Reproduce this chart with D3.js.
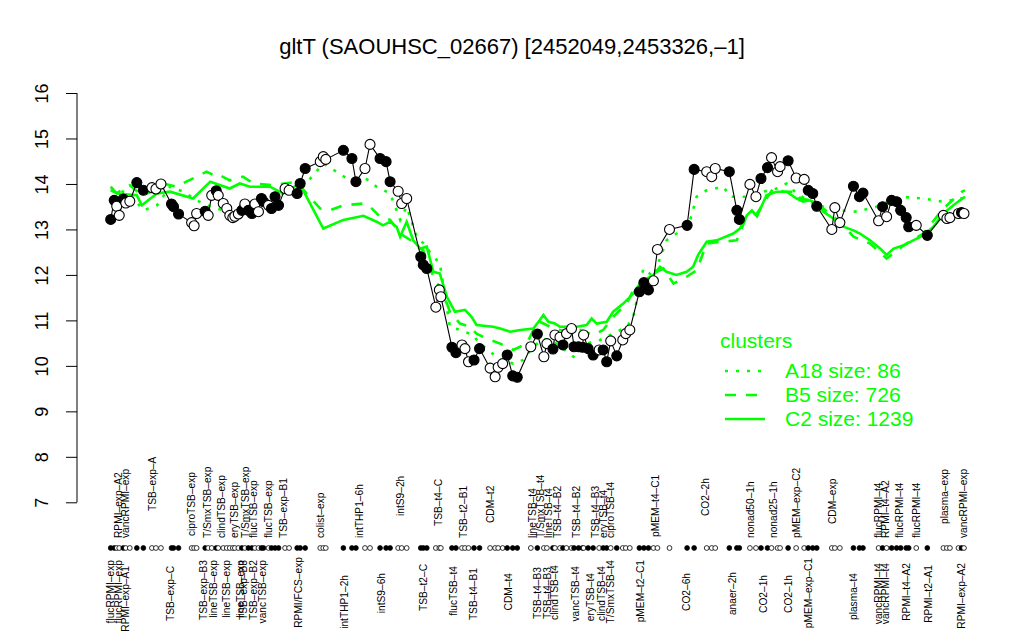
<!DOCTYPE html>
<html><head><meta charset="utf-8">
<script src="https://cdn.jsdelivr.net/npm/d3@7"></script>
<style>body{margin:0;background:#fff} svg{display:block} text{font-family:"Liberation Sans",Arial,Helvetica,sans-serif}</style>
</head><body><svg id="c" width="1024" height="640"></svg>
<script>
const title = "gltT (SAOUHSC_02667) [2452049,2453326,\u20131]";
const yTicks = [7,8,9,10,11,12,13,14,15,16];

// sample positions along the condition axis, expression values, filled(1)/open(0)
const samplePos = [0,0.7,1.2,1.7,2.5,3.0,3.8,5.2,6.5,8.2,9.0,10.0,12.1,12.5,13.5,16.1,16.6,17.1,18.8,19.4,20.1,21.0,21.4,22.4,23.1,23.7,24.3,24.7,25.4,26.1,26.7,27.4,28.1,28.7,29.4,30.0,30.4,31.4,32.0,32.7,33.4,34.7,35.5,37.1,37.7,38.7,41.7,42.3,42.8,46.3,48.0,48.8,50.6,51.6,53.6,54.8,55.6,57.2,57.9,58.9,61.7,62.2,62.9,64.7,65.4,65.7,67.9,68.7,69.9,70.5,71.2,72.3,73.4,75.5,76.5,77.1,78.0,78.9,80.0,80.9,83.6,84.9,86.2,86.8,88.0,88.4,89.4,90.0,90.7,91.7,92.2,93.1,93.9,94.1,95.0,96.0,97.2,98.0,98.7,99.5,100.7,101.9,102.5,103.3,105.2,106.1,107.0,108.0,108.8,111.2,114.7,116.1,118.6,119.6,120.3,123.1,124.6,125.1,127.2,128.4,129.4,130.7,131.5,132.7,133.2,134.8,136.4,138.0,138.8,139.7,140.5,143.5,144.1,145.1,147.8,149.0,149.7,152.8,153.6,154.4,155.4,156.4,157.2,158.3,158.8,160.3,162.5,165.7,166.4,167.0,168.7,169.3,169.8];
const sampleValue = [13.22,13.64,13.51,13.31,13.67,13.58,13.62,14.03,13.86,13.92,13.89,14.00,13.56,13.50,13.34,13.15,13.08,13.35,13.40,13.31,13.75,13.85,13.75,13.57,13.46,13.31,13.26,13.29,13.34,13.42,13.56,13.42,13.35,13.56,13.39,13.68,13.61,13.53,13.46,13.72,13.53,13.90,13.86,13.79,14.01,14.34,14.49,14.60,14.54,14.74,14.56,14.05,14.34,14.87,14.56,14.49,14.05,13.84,13.57,13.68,12.40,12.22,12.14,11.29,11.67,11.52,10.41,10.29,10.46,10.38,10.09,10.13,10.38,9.95,9.76,9.97,10.05,10.24,9.78,9.75,10.42,10.70,10.20,10.49,10.37,10.68,10.63,10.46,10.71,10.82,10.42,10.42,10.41,10.68,10.38,10.24,10.35,10.35,10.09,10.55,10.22,10.57,10.71,10.79,11.63,11.83,11.67,11.87,12.56,13.00,13.09,14.32,14.27,14.16,14.34,14.27,13.42,13.22,13.99,13.72,14.12,14.36,14.58,14.27,14.38,14.51,14.13,14.10,13.86,13.79,13.51,13.00,13.48,13.15,13.95,13.72,13.80,13.19,13.50,13.28,13.64,13.61,13.42,13.26,13.06,13.09,12.87,13.31,13.24,13.26,13.35,13.37,13.35];
const sampleFilled = [1,1,0,0,1,0,0,1,1,0,0,0,1,1,1,0,0,0,1,0,0,1,0,0,0,0,0,0,0,1,0,1,1,0,0,1,1,0,1,1,1,0,0,1,1,1,0,0,0,1,1,1,0,0,1,1,1,0,0,0,1,1,1,0,0,0,1,1,0,0,0,1,1,0,0,0,0,1,1,1,0,1,0,0,1,0,0,1,0,0,1,1,1,0,1,1,0,1,1,0,1,0,0,0,1,1,1,0,0,0,1,1,0,0,0,1,1,1,0,0,1,1,0,0,0,1,0,0,1,1,1,0,0,0,1,1,1,0,1,0,1,1,1,1,1,0,1,0,0,0,0,1,0];

const topLabels = ["RPMI-exp-A2","vancRPMI-exp","TSB-exp-A","ciproTSB-exp","T/SmxTSB-exp","clindTSB-exp","eryTSB-exp","T/SmxTSB-exp","flucTSB-exp","flucTSB-exp","TSB-exp-B1","colist-exp","intTHP1-6h","intS9-2h","TSB-t4-C","TSB-t2-B1","CDM-t2","lineTSB-t4","T/SmxTSB-t4","lineTSB-t4","TSB-t4-B2","TSB-t4-B2","TSB-t4-B3","eryTSB-t4","ciproTSB-t4","pMEM-t4-C1","CO2-2h","nonad50-1h","nonad25-1h","pMEM-exp-C2","CDM-exp","flucRPMI-t4","RPMI-t4-A2","flucRPMI-t4","flucRPMI-t4","plasma-exp","vancRPMI-exp"];
const topLabelPos = [1.5,3.0,8.2,16.1,19.2,22.1,24.5,26.7,28.4,31.4,34.3,41.7,49.5,57.6,65.2,70.2,75.5,83.8,85.4,87.1,88.8,92.7,96.4,98.0,99.5,108.3,118.3,127.2,131.9,136.5,143.5,152.8,154.1,156.9,160.3,165.8,169.7];
const bottomLabels = ["flucRPMI-exp","flucRPMI-exp","RPMI-exp-A1","TSB-exp-C","TSB-exp-B3","lineTSB-exp","lineTSB-exp","lineTSB-exp","TSB-exp-B3","TSB-exp-B2","vancTSB-exp","RPMI/FCS-exp","intTHP1-2h","intS9-6h","TSB-t2-C","flucTSB-t4","TSB-t4-B1","CDM-t4","TSB-t4-B3","TSB-t4-B3","clindTSB-t4","vancTSB-t4","eryTSB-t4","clindTSB-t4","T/SmxTSB-t4","pMEM-t2-C1","CO2-6h","anaer-2h","CO2-1h","CO2-1h","pMEM-exp-C1","plasma-t4","vancRPMI-t4","vancRPMI-t4","RPMI-t4-A2","RPMI-t2-A1","RPMI-exp-A2"];
const bottomLabelPos = [0,1.5,3.0,11.8,18.4,20.4,23.1,25.7,26.4,28.4,30.2,37.3,46.5,53.8,62.2,68.2,72.2,79.1,84.8,86.8,88.2,92.4,95.4,97.7,99.4,105.3,114.5,123.6,129.9,134.8,138.8,147.8,152.8,154.1,158.4,162.7,169.2];

// cluster profiles [position, value]
const clusterA18 = [[0,13.9],[3.8,13.79],[6.5,13.42],[9.2,13.53],[11.8,13.94],[14.5,13.83],[17.1,13.64],[19.8,13.5],[22.4,13.42],[25.1,13.53],[27.8,13.53],[30.4,13.64],[33.1,13.75],[35.7,13.86],[38.3,13.94],[42.3,14.45],[44.9,14.27],[47.6,14.08],[48.9,13.94],[50.3,14.16],[52.9,13.94],[55.6,13.79],[57.6,13.21],[58.9,13.5],[60.9,12.84],[62.9,12.62],[63.5,12.5],[65.5,12.25],[67.5,10.86],[69.5,10.79],[72.1,10.68],[73.4,10.49],[74.8,10.38],[77.5,10.13],[80.1,10.05],[82.1,10.13],[84.1,10.42],[86.1,10.6],[88.7,10.49],[92.1,10.2],[94.7,10.49],[97.4,10.57],[100,10.71],[102.7,10.86],[104,11.08],[106,12.14],[108,11.96],[110.6,12.76],[112.6,12.91],[115.3,13.2],[116.6,13.72],[118.6,13.86],[121.9,13.94],[123.3,13.72],[126.6,13.72],[129.9,13.83],[132.5,13.9],[134.5,14.01],[136.5,13.79],[139.2,13.61],[141.8,13.5],[145.1,13.42],[148.5,13.39],[152.4,13.5],[157.1,13.72],[161.7,13.68],[165.7,13.61],[169,13.68],[170,13.7]];
const clusterB5 = [[0,13.86],[1.2,13.8],[3.8,13.97],[6.2,13.75],[8.2,13.83],[10.4,14.01],[13,13.94],[17.1,14.16],[19.1,14.27],[21.1,14.16],[21.7,14.19],[23.7,14.08],[26.3,14.16],[28.4,14.01],[32.3,13.97],[37,14.05],[39,13.79],[41.7,13.46],[43.6,13.42],[46.3,13.53],[50.3,13.57],[51.6,13.5],[53.6,13.28],[55.6,13.21],[57.6,12.91],[59.6,12.77],[60.9,12.62],[62.2,12.54],[64.2,11.96],[66.2,11.59],[67.5,11.19],[69.5,10.93],[71.5,10.86],[72.8,10.71],[74.8,10.6],[77.5,10.49],[80.1,10.35],[82.8,10.49],[84.1,10.79],[85.4,10.97],[87.4,10.86],[89.4,10.79],[91.4,10.75],[93.4,10.79],[96,10.68],[98,10.79],[100,11.08],[102.7,11.37],[104,11.67],[106,11.74],[108,12.03],[110,12.14],[112,11.81],[114.6,11.96],[116.6,12.1],[118.6,12.69],[120.6,12.72],[124.6,12.76],[126.6,13.31],[128.6,13.35],[131.8,13.9],[134,13.83],[136.5,13.83],[137.2,13.68],[139.2,13.64],[141.8,13.46],[145.1,13.17],[147.8,12.84],[151.1,12.69],[154.4,12.36],[157.8,12.65],[161.7,12.91],[165.7,13.46],[169.4,13.83],[170,13.86]];
const clusterC2 = [[0,13.94],[1.2,13.79],[5.2,13.75],[6.2,13.53],[9.2,13.79],[11.8,13.83],[16.4,13.68],[19.8,14.05],[23.7,13.9],[25.7,14.01],[27.7,13.94],[31.7,13.94],[34.3,13.79],[37,13.97],[38.3,13.86],[42.3,13.02],[46.3,13.21],[50.3,13.3],[52.9,13.17],[54.2,13.09],[55.6,13.17],[56.9,13.06],[57.6,12.84],[58.9,13.17],[60.2,12.76],[61.6,12.58],[62.9,12.62],[64.2,12.07],[65.5,12.03],[66.9,11.52],[68.5,11.19],[70.5,11.23],[71.8,11.08],[72.8,10.9],[76.1,10.86],[77.5,10.82],[79.5,10.75],[81.5,10.79],[84.1,10.82],[85.4,11.01],[86.1,11.12],[87.1,10.97],[88.4,10.93],[89.4,10.86],[92.7,10.86],[94.7,10.9],[95.7,11.04],[96.7,10.93],[98.7,10.97],[100,11.19],[102,11.37],[104,11.59],[105.3,11.81],[106.7,11.92],[108,12.0],[109.3,12.18],[110.6,12.07],[112.6,12.0],[114.6,12.07],[115.9,12.18],[116.9,12.44],[118.6,12.73],[120.6,12.76],[123.9,12.91],[125.2,13.02],[126.6,13.31],[127.6,13.42],[128.6,13.29],[130.5,13.75],[132.5,13.83],[134.5,13.83],[136.5,13.68],[137.8,13.61],[139.2,13.64],[140.5,13.57],[141.8,13.39],[143.8,13.24],[145.8,13.06],[147.8,12.98],[149.1,12.91],[151.1,12.76],[153.1,12.58],[154.4,12.44],[155.8,12.58],[157.8,12.65],[159.7,12.76],[161.7,12.87],[163.7,13.06],[165.7,13.35],[167.7,13.53],[169,13.64],[170,13.72]];
const clusterNames = ["A18 size: 86","B5 size: 726","C2 size: 1239"];

// layout: pixel offsets of each label from the strip (label placement only)
const topLabelLift = [0,0,27,2,0,0,0,0,0,0,0,0,0,22,12,0,15,0,0,0,0,0,0,0,0,1,22,0,0,0,14,0,0,0,0,14,0];
const bottomLabelDrop = [0,0,6,6,0,0,0,0,0,0,0,-3,15,13,4,6,8,13,7,7,5,6,13,6,0,0,13,12,15,15,-2,13,3,3,3,5,3];

const GREEN = "#00ff00";
const svg = d3.select("#c");
const x = d3.scaleLinear().domain([0,170]).range([110.7,965]);
const y = d3.scaleLinear().domain([7,16]).range([502.3,93]);
const dash = s => s.replace(/-/g,"\u2013");

// title
svg.append("text").attr("x",512).attr("y",54).attr("text-anchor","middle")
  .attr("font-size",22).text(title);

// y axis
const yAxis = d3.axisLeft(y).tickValues(yTicks).tickSize(11).tickFormat(d3.format("d"));
const ga = svg.append("g").attr("transform","translate(77,0)").call(yAxis);
ga.select(".domain").attr("stroke","#000").attr("d",`M0,${y(16)}V${y(7)}`);
ga.selectAll(".tick line").attr("stroke","#000");
ga.selectAll(".tick text").each(function(){
  d3.select(this).attr("x",null).attr("dy",null).attr("y",0).attr("text-anchor","middle")
    .attr("font-size",18).attr("fill","#000")
    .attr("transform","translate(-29,0) rotate(-90)");
});

// cluster lines
const cl = d3.line().x(d=>x(d[0])).y(d=>y(d[1]));
const styles = ["3,8","11,10",null];
[clusterA18,clusterB5,clusterC2].forEach((c,i)=>{
  const p = svg.append("path").attr("d",cl(c)).attr("fill","none")
    .attr("stroke",GREEN).attr("stroke-width",2.6);
  if(styles[i]) p.attr("stroke-dasharray",styles[i]);
});

// sample profile
const pts = samplePos.map((p,i)=>({p, v:sampleValue[i], f:sampleFilled[i]}));
const ln = d3.line().x(d=>x(d.p)).y(d=>y(d.v));
svg.append("path").attr("d",ln(pts)).attr("fill","none").attr("stroke","#000").attr("stroke-width",1.1);
svg.append("g").selectAll("circle").data(pts).join("circle")
  .attr("cx",d=>x(d.p)).attr("cy",d=>y(d.v)).attr("r",5)
  .attr("fill",d=>d.f?"#000":"#fff").attr("stroke","#000").attr("stroke-width",1.1);

// strip of conditions
svg.append("g").selectAll("circle").data(pts).join("circle")
  .attr("cx",d=>x(d.p)).attr("cy",548).attr("r",2.4)
  .attr("fill",d=>d.f?"#000":"#fff").attr("stroke","#000").attr("stroke-width",0.8);

// labels (text reads bottom-to-top)
svg.append("g").selectAll("text").data(topLabels).join("text")
  .attr("transform",(d,i)=>`translate(${x(topLabelPos[i])+3.7},${538-topLabelLift[i]}) rotate(-90)`)
  .attr("text-anchor","start").attr("font-size",10.2).text(d=>dash(d));
svg.append("g").selectAll("text").data(bottomLabels).join("text")
  .attr("transform",(d,i)=>`translate(${x(bottomLabelPos[i])+3.7},${560+bottomLabelDrop[i]}) rotate(-90)`)
  .attr("text-anchor","end").attr("font-size",10.2).text(d=>dash(d));

// legend
const lg = svg.append("g");
lg.append("text").attr("x",720).attr("y",348).attr("font-size",21).attr("fill",GREEN).text("clusters");
clusterNames.forEach((n,i)=>{
  const yy = 371 + i*24;
  const l = lg.append("line").attr("x1",725).attr("x2",765).attr("y1",yy).attr("y2",yy)
    .attr("stroke",GREEN).attr("stroke-width",2.6);
  if(styles[i]) l.attr("stroke-dasharray",styles[i]);
  lg.append("text").attr("x",785).attr("y",yy+7).attr("font-size",21).attr("fill",GREEN).text(n);
});
</script></body></html>
